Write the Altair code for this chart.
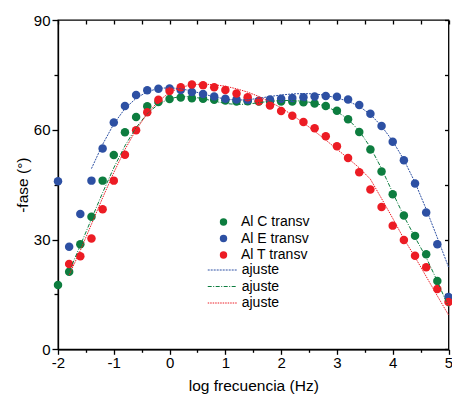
import altair as alt
import pandas as pd

# ---- data ----
log_f = [-2.0, -1.8, -1.6, -1.4, -1.2, -1.0, -0.8, -0.6, -0.4, -0.2, 0.0, 0.2,
         0.4, 0.6, 0.8, 1.0, 1.2, 1.4, 1.6, 1.8, 2.0, 2.2, 2.4, 2.6, 2.8, 3.0,
         3.2, 3.4, 3.6, 3.8, 4.0, 4.2, 4.4, 4.6, 4.8, 5.0]

fase_C = [17.6, 21.2, 28.7, 36.2, 46.1, 53.1, 59.3, 63.5, 66.4, 67.6, 68.4, 68.8,
          68.6, 68.5, 68.2, 68.0, 67.7, 67.8, 67.7, 67.8, 67.7, 67.7, 67.5, 67.2,
          66.5, 65.2, 62.9, 59.4, 54.6, 48.6, 42.4, 36.6, 31.0, 26.0, 18.7, None]
fase_E = [45.9, 28.0, 37.0, 46.1, 54.9, 62.0, 66.5, 69.5, 70.8, 71.2, 71.3, 70.9,
          70.3, 69.8, 69.1, 68.5, 68.3, 68.1, 67.9, 68.3, 68.5, 68.7, 68.9, 69.1,
          69.2, 69.0, 68.3, 66.8, 64.4, 61.0, 56.7, 51.7, 45.3, 37.4, 28.7, 14.3]
fase_T = [None, 23.3, 25.4, 30.3, 38.3, 46.1, 53.2, 59.9, 64.8, 68.2, 70.6, 71.6,
          72.4, 72.2, 71.6, 70.9, 69.9, 68.9, 67.8, 66.6, 65.1, 63.8, 62.1, 60.4,
          58.2, 55.5, 52.3, 48.4, 43.7, 38.9, 33.8, 29.9, 25.6, 22.4, 16.5, 12.9]

fit_x_E = log_f[3:]
fit_E = [49.4, 56.0, 61.6, 65.8, 68.6, 70.4, 71.3, 71.5, 71.2, 70.6, 69.8, 69.0,
         68.4, 68.1, 68.2, 68.6, 69.1, 69.5, 69.8, 69.9, 69.8, 69.4, 68.7, 67.8,
         66.4, 64.2, 61.0, 56.9, 51.8, 45.6, 38.3, 30.5, 22.5]
fit_x_C = log_f[1:]
fit_C = [21.2, 28.4, 35.6, 42.8, 49.6, 55.6, 60.6, 64.4, 67.0, 68.5, 69.1, 69.0,
         68.5, 67.8, 67.2, 66.9, 67.0, 67.4, 67.8, 68.0, 68.0, 67.8, 67.3, 66.4,
         65.0, 62.9, 59.7, 55.2, 49.4, 42.8, 36.4, 30.6, 25.1, 18.6, 11.6]
fit_x_T = log_f[1:]
fit_T = [20.3, 27.0, 34.2, 41.4, 48.3, 54.6, 60.0, 64.4, 67.8, 70.2, 71.6, 72.3,
         72.5, 72.3, 71.9, 71.2, 70.3, 69.1, 67.6, 66.0, 64.0, 61.9, 59.6, 57.2,
         54.7, 52.2, 49.6, 46.5, 41.2, 35.8, 30.2, 25.2, 19.9, 14.6, 9.4]

series_names = ["Al C transv", "Al E transv", "Al T transv"]
fit_names = ["fit E", "fit C", "fit T"]
x_ticks = [-2, -1.5, -1, -0.5, 0, 0.5, 1, 1.5, 2, 2.5, 3, 3.5, 4, 4.5, 5]
y_ticks = [0, 15, 30, 45, 60, 75, 90]

GREEN, BLUE, RED = "#0d7d3f", "#2d50a3", "#ec1c24"
FONT = "Liberation Sans"

rows = []
for name, vals in zip(series_names, [fase_C, fase_E, fase_T]):
    for xv, yv in zip(log_f, vals):
        if yv is not None:
            rows.append({"x": xv, "y": yv, "serie": name})
pts = pd.DataFrame(rows)

frows = []
for name, xs, ys in zip(fit_names, [fit_x_E, fit_x_C, fit_x_T], [fit_E, fit_C, fit_T]):
    for xv, yv in zip(xs, ys):
        frows.append({"x": xv, "y": yv, "ajuste": name})
fits = pd.DataFrame(frows)

xscale = alt.Scale(domain=[-2, 5], nice=False, zero=False)
yscale = alt.Scale(domain=[0, 90], nice=False, zero=False)

points = alt.Chart(pts).mark_circle(size=72, opacity=1).encode(
    x=alt.X("x:Q", scale=xscale, title="log frecuencia (Hz)",
            axis=alt.Axis(values=x_ticks, orient="bottom", labelFlush=False,
                          labelExpr="datum.value % 1 == 0 ? '' + datum.value : ''",
                          tickSize={"condition": {"test": "datum.value % 1 == 0", "value": 5}, "value": 3},
                          labelPadding=1, titlePadding=8, grid=False)),
    y=alt.Y("y:Q", scale=yscale, title="-fase (°)",
            axis=alt.Axis(values=y_ticks, orient="left", labelFlush=False,
                          labelExpr="datum.value % 30 == 0 ? '' + datum.value : ''",
                          tickSize={"condition": {"test": "datum.value % 30 == 0", "value": 6}, "value": 4},
                          labelPadding=2, titlePadding=3, grid=False)),
    color=alt.Color("serie:N",
                    scale=alt.Scale(domain=series_names, range=[GREEN, BLUE, RED]),
                    legend=alt.Legend(title=None, orient="none", legendX=158.5, legendY=195,
                                      symbolSize=55, symbolType="circle", labelOffset=10.5,
                                      rowPadding=2.5, padding=0, symbolStrokeWidth=0,
                                      labelFontSize=14, labelFont=FONT, labelColor="black")),
)

dash_legend = alt.Legend(title=None, orient="none", legendX=149.2, legendY=243,
                         symbolType="stroke", symbolSize=841, symbolStrokeWidth=1,
                         labelOffset=4.5, rowPadding=2.5, clipHeight=14, padding=0,
                         labelExpr="'ajuste'", labelFontSize=14, labelFont=FONT,
                         labelColor="black")

lines = alt.Chart(fits).mark_line(strokeWidth=1).encode(
    x=alt.X("x:Q", scale=xscale, title=None,
            axis=alt.Axis(values=x_ticks, orient="top", offset=-4, tickSize=4,
                          labels=False, domain=False, grid=False)),
    y=alt.Y("y:Q", scale=yscale, title=None,
            axis=alt.Axis(values=y_ticks, orient="right", offset=-4, tickSize=4,
                          labels=False, domain=False, grid=False)),
    color=alt.Color("ajuste:N", scale=alt.Scale(domain=fit_names, range=[BLUE, GREEN, RED]),
                    legend=dash_legend),
    strokeDash=alt.StrokeDash("ajuste:N",
                              scale=alt.Scale(domain=fit_names,
                                              range=[[2, 1], [4, 1.5, 1, 1.5], [1.5, 1]]),
                              legend=dash_legend),
)

chart = alt.layer(points, lines).resolve_scale(
    color="independent", strokeDash="independent"
).resolve_axis(x="independent", y="independent").properties(
    width=390.5, height=329.3,
    background="white",
    autosize=alt.AutoSizeParams(type="none"),
    padding={"left": 58, "top": 20, "right": 3.5, "bottom": 48.7},
).configure_view(stroke="black", strokeWidth=1.3).configure_axis(
    domainColor="black", domainWidth=1.3, tickColor="black", tickWidth=1.3,
    labelFont=FONT, labelFontSize=15, labelColor="black",
    titleFont=FONT, titleFontSize=15.5, titleColor="black", titleFontWeight="normal",
)

chart.save("out.html", embed_options={"renderer": "svg", "actions": False})
